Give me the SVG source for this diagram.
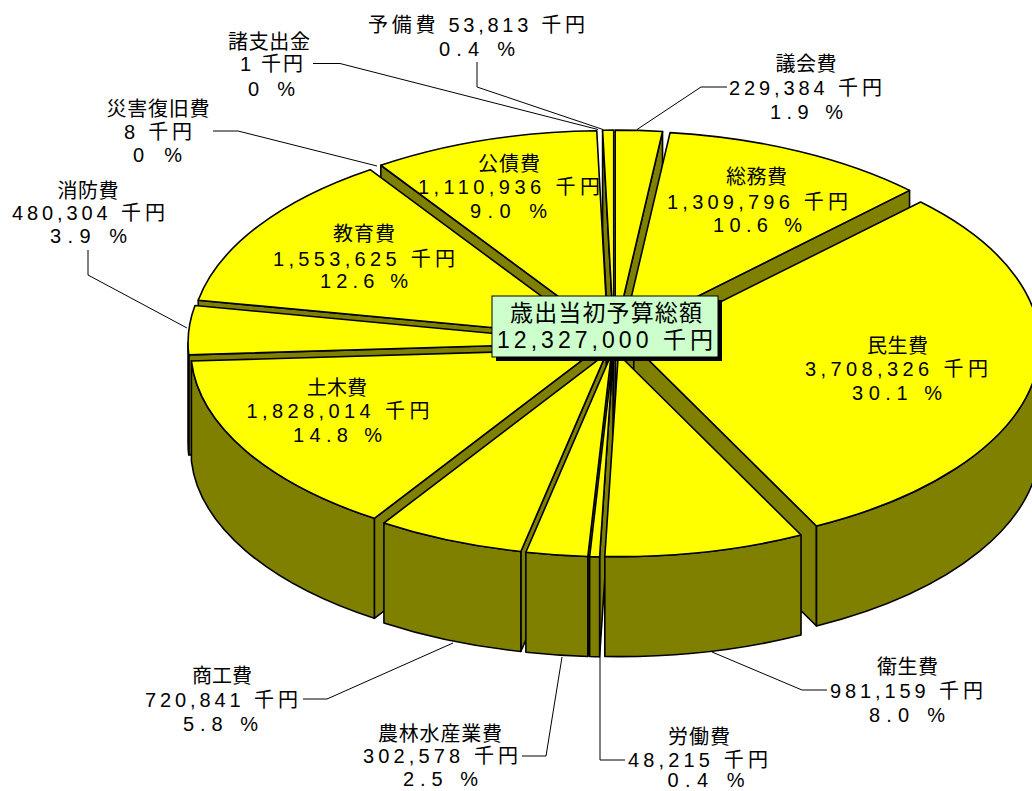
<svg xmlns="http://www.w3.org/2000/svg" width="1032" height="791" viewBox="0 0 1032 791">
<style>
.top{fill:#ffff00;stroke:#000;stroke-width:1.6;stroke-linejoin:round}
.side{fill:#808000;stroke:#000;stroke-width:1.6;stroke-linejoin:round}
.lbl{font-family:"Liberation Sans","Noto Sans CJK JP",sans-serif;font-size:20px;fill:#000;text-anchor:middle}
.big{font-family:"Liberation Sans","Noto Sans CJK JP",sans-serif;font-size:23px;fill:#000;text-anchor:middle}
.lead{fill:none;stroke:#000;stroke-width:1}
</style>
<rect width="1032" height="791" fill="#fff"/>

<g id="yobihi">
<path class="side" d="M613.73,332.5 L602.6,130.18 L602.6,230.18 L613.73,432.5 Z"/>
<path class="top" d="M613.73,332.5 L602.6,130.18 A406,202.4 0 0 1 613.73,130.1 Z"/>
</g>

<g id="gikaihi">
<path class="side" d="M615.17,332.52 L662.53,131.5 L662.53,231.5 L615.17,432.52 Z"/>
<path class="top" d="M615.17,332.52 L615.17,130.12 A406,202.4 0 0 1 662.53,131.5 Z"/>
</g>

<g id="kousaihi">
<path class="side" d="M607.89,333.03 L380.79,165.25 L380.79,265.25 L607.89,433.03 Z"/>
<path class="top" d="M607.89,333.03 L380.79,165.25 A406,202.4 0 0 1 596.76,130.71 Z"/>
</g>

<g id="soumuhi">
<path class="side" d="M622.71,333.6 L909.55,190.36 L909.55,290.36 L622.71,433.6 Z"/>
<path class="top" d="M622.71,333.6 L670.07,132.58 A406,202.4 0 0 1 909.55,190.36 Z"/>
</g>

<g id="kyouikuhi">
<path class="side" d="M597.28,337.46 L198.22,300.19 L198.22,400.19 L597.28,437.46 Z"/>
<path class="top" d="M597.28,337.46 L198.22,300.19 A406,202.4 0 0 1 370.18,169.68 Z"/>
</g>

<g id="shoubouhi">
<path class="side" d="M594.04,342.81 L188.76,354.86 L188.76,454.86 L594.04,442.81 Z"/>
<path class="side" d="M188.76,354.86 A406,202.4 0 0 1 188.04,342.81 L188.04,442.81 A406,202.4 0 0 0 188.76,454.86 Z"/>
<path class="top" d="M594.04,342.81 L188.76,354.86 A406,202.4 0 0 1 194.98,305.54 Z"/>
</g>

<g id="minseihi">
<path class="side" d="M633.75,345.24 L816.47,525.98 L816.47,625.98 L633.75,445.24 Z"/>
<path class="side" d="M1039.75,345.24 A406,202.4 0 0 1 816.47,525.98 L816.47,625.98 A406,202.4 0 0 0 1039.75,445.24 Z"/>
<path class="top" d="M633.75,345.24 L920.59,202 A406,202.4 0 0 1 816.47,525.98 Z"/>
</g>

<g id="dobokuhi">
<path class="side" d="M596.7,349.02 L374.34,518.36 L374.34,618.36 L596.7,449.02 Z"/>
<path class="side" d="M374.34,518.36 A406,202.4 0 0 1 191.42,361.07 L191.42,461.07 A406,202.4 0 0 0 374.34,618.36 Z"/>
<path class="top" d="M596.7,349.02 L374.34,518.36 A406,202.4 0 0 1 191.42,361.07 Z"/>
</g>

<g id="shoukouhi">
<path class="side" d="M606.29,353.65 L520.86,551.52 L520.86,651.52 L606.29,453.65 Z"/>
<path class="side" d="M520.86,551.52 A406,202.4 0 0 1 383.93,522.99 L383.93,622.99 A406,202.4 0 0 0 520.86,651.52 Z"/>
<path class="top" d="M606.29,353.65 L520.86,551.52 A406,202.4 0 0 1 383.93,522.99 Z"/>
</g>

<g id="nourinsuisangyouhi">
<path class="side" d="M611.31,354.4 L587.86,556.46 L587.86,656.46 L611.31,454.4 Z"/>
<path class="side" d="M587.86,556.46 A406,202.4 0 0 1 525.88,552.27 L525.88,652.27 A406,202.4 0 0 0 587.86,656.46 Z"/>
<path class="top" d="M611.31,354.4 L587.86,556.46 A406,202.4 0 0 1 525.88,552.27 Z"/>
</g>

<g id="roudouhi">
<path class="side" d="M613.09,354.49 L599.61,556.78 L599.61,656.78 L613.09,454.49 Z"/>
<path class="side" d="M599.61,556.78 A406,202.4 0 0 1 589.64,556.55 L589.64,656.55 A406,202.4 0 0 0 599.61,656.78 Z"/>
<path class="top" d="M613.09,354.49 L599.61,556.78 A406,202.4 0 0 1 589.64,556.55 Z"/>
</g>

<g id="eiseihi">
<path class="side" d="M801.02,534.98 A406,202.4 0 0 1 604.82,556.53 L604.82,656.53 A406,202.4 0 0 0 801.02,634.98 Z"/>
<path class="top" d="M618.3,354.24 L801.02,534.98 A406,202.4 0 0 1 604.82,556.53 Z"/>
</g>

<g id="connectors">
<path class="lead" d="M477,62 L477,87 L603,129.5"/>
<path class="lead" d="M313,63.5 L340,63.5 L598,129.5"/>
<path class="lead" d="M213,131 L238,131 L377,166"/>
<path class="lead" d="M88,250 L88,275 L187,328"/>
<path class="lead" d="M727,87 L701,87 L637,129.5"/>
<path class="lead" d="M827,690 L802,690 L712,652"/>
<path class="lead" d="M625,760 L600,760 L600,657"/>
<path class="lead" d="M522,756 L546,756 L562,657"/>
<path class="lead" d="M303,699 L327,699 L453,643"/>
</g>

<g id="labels">
<g id="label-yobihi">
<text class="lbl" x="476.5" y="31.5" textLength="217" lengthAdjust="spacing">予備費 53,813 千円</text>
<text class="lbl" x="477" y="56" textLength="76" lengthAdjust="spacing">0.4 %</text>
</g>
<g id="label-shishutsukin">
<text class="lbl" x="269" y="49" textLength="82" lengthAdjust="spacing">諸支出金</text>
<text class="lbl" x="271.5" y="71" textLength="63" lengthAdjust="spacing">1 千円</text>
<text class="lbl" x="271.5" y="95.5" textLength="47" lengthAdjust="spacing">0 %</text>
</g>
<g id="label-saigaifukkyuuhi">
<text class="lbl" x="158" y="115.5" textLength="103" lengthAdjust="spacing">災害復旧費</text>
<text class="lbl" x="158" y="138.5" textLength="68" lengthAdjust="spacing">8 千円</text>
<text class="lbl" x="157.5" y="161.5" textLength="49" lengthAdjust="spacing">0 %</text>
</g>
<g id="label-shoubouhi">
<text class="lbl" x="88" y="197.5" textLength="61" lengthAdjust="spacing">消防費</text>
<text class="lbl" x="88.5" y="220" textLength="153" lengthAdjust="spacing">480,304 千円</text>
<text class="lbl" x="88.5" y="243" textLength="77" lengthAdjust="spacing">3.9 %</text>
</g>
<g id="label-gikaihi">
<text class="lbl" x="806" y="70.5" textLength="61" lengthAdjust="spacing">議会費</text>
<text class="lbl" x="805.5" y="94.5" textLength="153" lengthAdjust="spacing">229,384 千円</text>
<text class="lbl" x="806.5" y="118.5" textLength="73" lengthAdjust="spacing">1.9 %</text>
</g>
<g id="label-soumuhi">
<text class="lbl" x="756.5" y="183.5" textLength="61" lengthAdjust="spacing">総務費</text>
<text class="lbl" x="757.5" y="208.5" textLength="181" lengthAdjust="spacing">1,309,796 千円</text>
<text class="lbl" x="757.5" y="232" textLength="89" lengthAdjust="spacing">10.6 %</text>
</g>
<g id="label-minseihi">
<text class="lbl" x="897.5" y="352.5" textLength="61" lengthAdjust="spacing">民生費</text>
<text class="lbl" x="896.5" y="376" textLength="183" lengthAdjust="spacing">3,708,326 千円</text>
<text class="lbl" x="897" y="399.5" textLength="90" lengthAdjust="spacing">30.1 %</text>
</g>
<g id="label-eiseihi">
<text class="lbl" x="907.5" y="674" textLength="61" lengthAdjust="spacing">衛生費</text>
<text class="lbl" x="906.5" y="698" textLength="153" lengthAdjust="spacing">981,159 千円</text>
<text class="lbl" x="907" y="721.5" textLength="76" lengthAdjust="spacing">8.0 %</text>
</g>
<g id="label-roudouhi">
<text class="lbl" x="699" y="743.5" textLength="62" lengthAdjust="spacing">労働費</text>
<text class="lbl" x="698" y="766.5" textLength="140" lengthAdjust="spacing">48,215 千円</text>
<text class="lbl" x="706" y="787" textLength="77" lengthAdjust="spacing">0.4 %</text>
</g>
<g id="label-nourinsuisangyouhi">
<text class="lbl" x="440" y="741" textLength="124" lengthAdjust="spacing">農林水産業費</text>
<text class="lbl" x="440.5" y="763" textLength="155" lengthAdjust="spacing">302,578 千円</text>
<text class="lbl" x="440.5" y="786" textLength="75" lengthAdjust="spacing">2.5 %</text>
</g>
<g id="label-shoukouhi">
<text class="lbl" x="222" y="682.5" textLength="60" lengthAdjust="spacing">商工費</text>
<text class="lbl" x="221.5" y="707" textLength="153" lengthAdjust="spacing">720,841 千円</text>
<text class="lbl" x="220.5" y="731" textLength="75" lengthAdjust="spacing">5.8 %</text>
</g>
<g id="label-dobokuhi">
<text class="lbl" x="337" y="395" textLength="60" lengthAdjust="spacing">土木費</text>
<text class="lbl" x="338" y="418" textLength="183" lengthAdjust="spacing">1,828,014 千円</text>
<text class="lbl" x="337.5" y="442" textLength="89" lengthAdjust="spacing">14.8 %</text>
</g>
<g id="label-kyouikuhi">
<text class="lbl" x="364" y="241" textLength="62" lengthAdjust="spacing">教育費</text>
<text class="lbl" x="364" y="266" textLength="182" lengthAdjust="spacing">1,553,625 千円</text>
<text class="lbl" x="364" y="288" textLength="88" lengthAdjust="spacing">12.6 %</text>
</g>
<g id="label-kousaihi">
<text class="lbl" x="509" y="171" textLength="62" lengthAdjust="spacing">公債費</text>
<text class="lbl" x="509" y="194" textLength="182" lengthAdjust="spacing">1,110,936 千円</text>
<text class="lbl" x="508.5" y="218" textLength="77" lengthAdjust="spacing">9.0 %</text>
</g>
</g>

<g id="total">
<rect x="496" y="300" width="226" height="61" fill="#000"/>
<rect x="492" y="296" width="226" height="61" fill="#ccffcc" stroke="#000" stroke-width="1"/>
<text class="big" x="606" y="321" textLength="192" lengthAdjust="spacing">歳出当初予算総額</text>
<text class="big" x="605" y="347.5" textLength="216" lengthAdjust="spacing">12,327,000 千円</text>
</g>
</svg>
